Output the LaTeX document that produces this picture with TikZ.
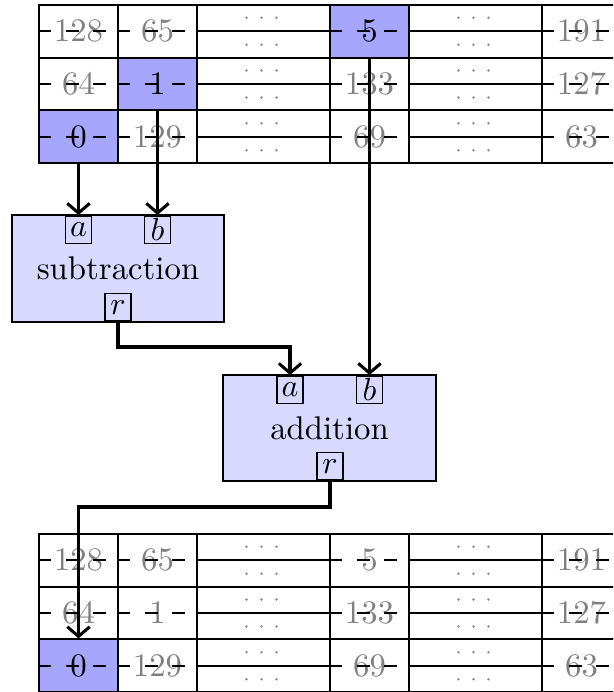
\documentclass[tikz,border=0pt]{standalone}
\usetikzlibrary{arrows.meta}
\begin{document}
\begin{tikzpicture}[x=0.3125pt,y=-0.3125pt,
  every node/.style={font=\fontsize{10.25pt}{12pt}\selectfont},
  cell/.style={draw, line width=0.6pt, inner sep=0pt, minimum height=16.46pt,
               minimum width=24.69pt, text=black!50},
  hotcell/.style={cell, fill=blue!35, text=black},
  gapcell/.style={cell, minimum width=41.56pt},
  strike/.style={line width=0.6pt, dash pattern=on 4.1pt off 4.5pt},
  rule/.style={line width=0.6pt},
  dotc/.style={black!45},
  unit/.style={draw, line width=0.6pt, fill=blue!15, inner sep=0pt},
  port/.style={draw, line width=0.5pt, fill=blue!15, inner sep=0pt,
               minimum width=8.1pt, minimum height=8.7pt},
  flow/.style={line width=0.95pt, -{Straight Barb[length=3pt,width=7pt]}}
]
\useasboundingbox (0,0) rectangle (613,692);
\clip (0,0) rectangle (613,692);

% ---- register tables: prefix / vertical position of the three rows
\foreach \p/\ya/\yb/\yc/\hA/\hB/\hC in {t/31.3/84/136.7/hotcell/hotcell/hotcell,
                                          b/560.3/613/665.7/cell/cell/hotcell}{
  % row 1
  \foreach \c/\cx/\v/\s in {1/78.5/128/cell, 2/157.5/65/cell, 4/369.5/5/\hA, 6/581.5/191/cell}
    \node[\s] (\p-1-\c) at (\cx,\ya) {\v};
  % row 2
  \foreach \c/\cx/\v/\s in {1/78.5/64/cell, 2/157.5/1/\hB, 4/369.5/133/cell, 6/581.5/127/cell}
    \node[\s] (\p-2-\c) at (\cx,\yb) {\v};
  % row 3
  \foreach \c/\cx/\v/\s in {1/78.5/0/\hC, 2/157.5/129/cell, 4/369.5/69/cell, 6/581.5/63/cell}
    \node[\s] (\p-3-\c) at (\cx,\yc) {\v};
  % elided columns
  \foreach \r/\y in {1/\ya,2/\yb,3/\yc}{
    \foreach \c/\cx in {3/263.5,5/475.5}{
      \node[gapcell] (\p-\r-\c) at (\cx,\y) {};
      \draw[rule] (\p-\r-\c.west) -- (\p-\r-\c.east);
      \foreach \dx in {-17,-2,13}{
        \fill[dotc] ([xshift=\dx*0.3125pt, yshift=13.5*0.3125pt]\p-\r-\c.center) circle (0.42pt);
        \fill[dotc] ([xshift=\dx*0.3125pt, yshift=-13.5*0.3125pt]\p-\r-\c.center) circle (0.42pt);
      }
    }
    % strike lines across the value cells
    \foreach \c in {1,2,4,6}
      \draw[strike] (\p-\r-\c.west) -- (\p-\r-\c.east);
  }
}

% ---- subtraction unit
\node[unit, minimum width=66.25pt, minimum height=33.44pt] (sub) at (118,268.5) {subtraction};
\node[port, anchor=north] (suba) at (78.5,215) {$a$};
\node[port, anchor=north] (subb) at (157.5,215) {$b$};
\node[port, anchor=south] (subr) at (118,322) {$r$};

% ---- addition unit
\node[unit, minimum width=66.56pt, minimum height=33.13pt] (add) at (329.5,428) {addition};
\node[port, anchor=north] (adda) at (290,375) {$a$};
\node[port, anchor=north] (addb) at (369.5,375) {$b$};
\node[port, anchor=south] (addr) at (330,481) {$r$};

% ---- data flow
\draw[flow] (t-3-1.south) -- (suba.north);
\draw[flow] (t-2-2.south) -- (subb.north);
\draw[flow] (t-1-4.south) -- (addb.north);
\draw[flow] (subr.south) -- ++(0,25) -| (adda.north);
\draw[flow] (addr.south) -- ++(0,26) -| (b-3-1.north);
\end{tikzpicture}
\end{document}
